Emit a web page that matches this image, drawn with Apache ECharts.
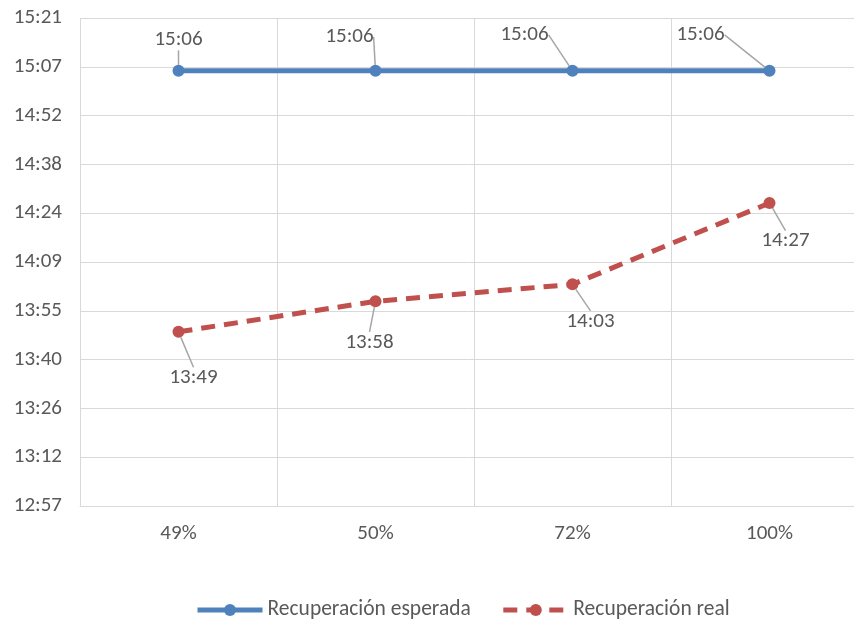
<!DOCTYPE html>
<html><head><meta charset="utf-8">
<script src="https://cdn.jsdelivr.net/npm/echarts@6/dist/echarts.min.js"></script>
<style>html,body{margin:0;padding:0;background:#fff}#c{width:854px;height:622px}</style>
</head><body><div id="c"></div>
<script>
// Data (times as minutes since midnight)
var categories = ['49%', '50%', '72%', '100%'];
var esperada = [906, 906, 906, 906];   // 15:06
var real = [829, 838, 843, 867];       // 13:49, 13:58, 14:03, 14:27
var seriesNames = ['Recuperación esperada', 'Recuperación real'];

function fmt(v) {
  var m = Math.floor(v + 1e-6);
  var h = Math.floor(m / 60), mm = m % 60;
  return h + ':' + (mm < 10 ? '0' : '') + mm;
}
var FONT = 'Carlito, "Liberation Sans Narrow", "Liberation Sans", sans-serif';
var TXT = '#595959';
var FS = 21;
var offE = [[0, -31], [-26, -34], [-48, -36], [-69, -36]];
var offR = [[15, 46], [-6, 41], [18, 37], [16, 38]];

var chart = echarts.init(document.getElementById('c'));
chart.setOption({
  animation: false,
  grid: { left: 80, width: 788, top: 18, bottom: 116, outerBoundsMode: 'none', containLabel: false },
  xAxis: {
    type: 'category', data: categories, boundaryGap: true,
    axisLine: { lineStyle: { color: '#D9D9D9', width: 1 } },
    axisTick: { show: false },
    axisLabel: { color: TXT, fontFamily: FONT, fontSize: FS, margin: 17 },
    splitLine: { show: true, lineStyle: { color: '#D9D9D9', width: 1 } }
  },
  yAxis: {
    type: 'value', min: 777.6, max: 921.6, interval: 14.4,
    axisLine: { show: false },
    axisTick: { show: false },
    axisLabel: { color: TXT, fontFamily: FONT, fontSize: FS, margin: 18, formatter: fmt },
    splitLine: { show: true, lineStyle: { color: '#D9D9D9', width: 1 } }
  },
  legend: {
    bottom: -4, left: 190, itemWidth: 65, itemHeight: 15, itemGap: 30,
    lineStyle: { width: 5 },
    textStyle: { color: TXT, fontFamily: FONT, fontSize: 21.5 },
    data: seriesNames
  },
  series: [
    {
      name: seriesNames[0], type: 'line', data: esperada,
      symbol: 'circle', symbolSize: 12,
      itemStyle: { color: '#4F81BD' },
      lineStyle: { color: '#4F81BD', width: 5 },
      label: { show: true, position: 'inside', formatter: function (p) { return fmt(p.value); },
        color: TXT, fontFamily: FONT, fontSize: FS },
      labelLine: { show: true, lineStyle: { color: '#A6A6A6', width: 1.5 } },
      labelLayout: function (p) { var o = offE[p.dataIndex]; return { dx: o[0], dy: o[1] }; }
    },
    {
      name: seriesNames[1], type: 'line', data: real,
      symbol: 'circle', symbolSize: 12,
      itemStyle: { color: '#C0504D' },
      lineStyle: { color: '#C0504D', width: 5, type: [14, 9] },
      label: { show: true, position: 'inside', formatter: function (p) { return fmt(p.value); },
        color: TXT, fontFamily: FONT, fontSize: FS },
      labelLine: { show: true, lineStyle: { color: '#A6A6A6', width: 1.5 } },
      labelLayout: function (p) { var o = offR[p.dataIndex]; return { dx: o[0], dy: o[1] }; }
    }
  ]
});
</script>
</body></html>
